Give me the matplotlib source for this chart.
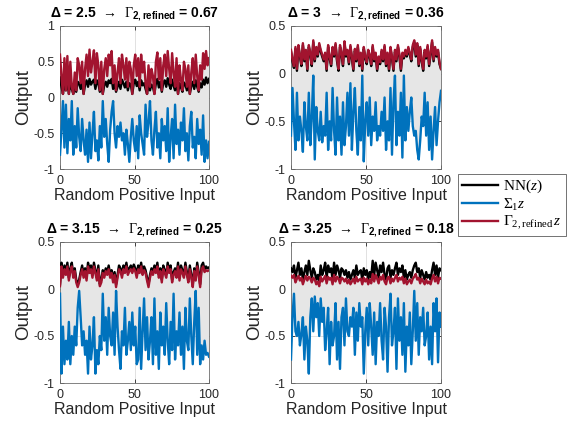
import numpy as np
import matplotlib
matplotlib.use("Agg")
import matplotlib.pyplot as plt
from matplotlib.lines import Line2D

plt.rcParams["font.family"] = ["Liberation Sans", "DejaVu Sans"]
plt.rcParams["mathtext.fontset"] = "custom"
plt.rcParams["mathtext.rm"] = "Liberation Serif"
plt.rcParams["mathtext.it"] = "Liberation Serif:italic"
plt.rcParams["mathtext.bf"] = "Liberation Sans:bold"

# panel titles
deltas = ["2.5", "3", "3.15", "3.25"]
gammas = ["0.67", "0.36", "0.25", "0.18"]

# --- panel 1 (delta = 2.5)
nn_1 = [0.28, 0.15, 0.05, 0.22, 0.10, 0.25, 0.05, 0.20, 0.12, 0.05, 0.18,
        0.08, 0.22, 0.20, 0.12, 0.20, 0.05, 0.18, 0.24, 0.15, 0.26,
        0.18, 0.22, 0.25, 0.12, 0.24, 0.20, 0.08, 0.20, 0.05, 0.17,
        0.22, 0.15, 0.24, 0.20, 0.26, 0.12, 0.20, 0.08, 0.15, 0.22,
        0.12, 0.25, 0.20, 0.14, 0.22, 0.10, 0.20, 0.18, 0.05, 0.20,
        0.25, 0.16, 0.22, 0.10, 0.24, 0.17, 0.20, 0.12, 0.05, 0.20,
        0.10, 0.18, 0.15, 0.05, 0.20, 0.26, 0.14, 0.22, 0.08, 0.20,
        0.24, 0.15, 0.27, 0.18, 0.12, 0.25, 0.16, 0.10, 0.22, 0.05,
        0.20, 0.14, 0.08, 0.21, 0.18, 0.10, 0.20, 0.05, 0.16, 0.22,
        0.12, 0.24, 0.15, 0.08, 0.20, 0.14, 0.25, 0.18, 0.28, 0.20, 0.26]
sig_1 = [-0.80, -0.45, -0.05, -0.70, -0.10, -0.78, -0.30, -0.60, -0.05, -0.80, -0.40,
         -0.70, -0.15, -0.55, -0.75, -0.30, -0.60, -0.80, -0.45, -0.90, -0.35,
         -0.85, -0.50, -0.20, -0.75, -0.60, -0.88, -0.40, -0.70, -0.05, -0.55,
         -0.30, -0.65, -0.90, -0.45, -0.20, -0.05, -0.50, -0.70, -0.40, -0.55,
         -0.35, -0.60, -0.50, -0.80, -0.45, -0.65, -0.90, -0.55, -0.30, -0.60,
         -0.75, -0.40, -0.85, -0.25, -0.50, -0.65, -0.80, -0.10, -0.55, -0.35,
         -0.05, -0.60, -0.80, -0.45, -0.20, -0.70, -0.50, -0.85, -0.30, -0.60,
         -0.40, -0.75, -0.15, -0.90, -0.55, -0.30, -0.85, -0.10, -0.65, -0.45,
         -0.80, -0.35, -0.60, -0.15, -0.75, -0.50, -0.88, -0.40, -0.20, -0.70,
         -0.55, -0.85, -0.30, -0.65, -0.45, -0.80, -0.25, -0.90, -0.60, -0.85, -0.62]
gam_1 = [0.60, 0.30, 0.05, 0.55, 0.10, 0.58, 0.05, 0.50, 0.15, 0.05, 0.35,
         0.10, 0.55, 0.45, 0.20, 0.50, 0.05, 0.40, 0.60, 0.30, 0.67,
         0.35, 0.50, 0.66, 0.20, 0.62, 0.45, 0.10, 0.50, 0.05, 0.40,
         0.55, 0.30, 0.60, 0.45, 0.65, 0.20, 0.45, 0.10, 0.35, 0.55,
         0.20, 0.60, 0.45, 0.25, 0.55, 0.15, 0.50, 0.40, 0.05, 0.45,
         0.60, 0.30, 0.55, 0.15, 0.60, 0.35, 0.50, 0.20, 0.05, 0.45,
         0.15, 0.40, 0.30, 0.05, 0.50, 0.63, 0.25, 0.55, 0.10, 0.45,
         0.60, 0.30, 0.65, 0.40, 0.20, 0.62, 0.35, 0.15, 0.55, 0.05,
         0.45, 0.25, 0.10, 0.50, 0.40, 0.15, 0.45, 0.05, 0.35, 0.55,
         0.20, 0.60, 0.30, 0.10, 0.45, 0.25, 0.62, 0.40, 0.65, 0.45, 0.55]

# --- panel 2 (delta = 3)
nn_2 = [0.23, 0.13, 0.06, 0.26, 0.03, 0.28, 0.18, 0.08, 0.30, 0.13, 0.23,
        0.03, 0.28, 0.20, 0.08, 0.33, 0.13, 0.26, 0.18, 0.30, 0.23,
        0.18, 0.13, 0.20, 0.03, 0.28, 0.16, 0.08, 0.26, 0.18, 0.30,
        0.13, 0.03, 0.28, 0.20, 0.08, 0.32, 0.18, 0.23, 0.10, 0.28,
        0.16, 0.03, 0.24, 0.13, 0.28, 0.08, 0.20, 0.03, 0.26, 0.16,
        0.10, 0.23, 0.18, 0.08, 0.28, 0.13, 0.20, 0.03, 0.16, 0.10,
        0.23, 0.13, 0.28, 0.08, 0.20, 0.03, 0.26, 0.16, 0.03, 0.23,
        0.13, 0.28, 0.18, 0.03, 0.20, 0.16, 0.23, 0.18, 0.26, 0.20,
        0.13, 0.28, 0.33, 0.18, 0.30, 0.08, 0.26, 0.13, 0.03, 0.23,
        0.16, 0.28, 0.08, 0.20, 0.33, 0.13, 0.26, 0.18, 0.23, 0.10, 0.05]
sig_2 = [-0.65, -0.15, -0.50, -0.80, -0.20, -0.70, -0.45, -0.60, -0.82, -0.30, -0.55,
         -0.70, -0.20, -0.75, -0.45, -0.02, -0.90, -0.35, -0.60, -0.70, -0.40,
         -0.72, -0.55, -0.65, -0.20, -0.80, -0.50, -0.70, -0.15, -0.60, -0.85,
         -0.25, -0.70, -0.45, -0.85, -0.30, -0.75, -0.55, -0.20, -0.65, -0.10,
         -0.80, -0.40, -0.15, -0.60, -0.85, -0.35, -0.70, -0.02, -0.92, -0.50,
         -0.30, -0.65, -0.25, -0.75, -0.45, -0.60, -0.30, -0.70, -0.55, -0.65,
         -0.40, -0.60, -0.25, -0.80, -0.50, -0.70, -0.15, -0.85, -0.30, -0.02,
         -0.75, -0.40, -0.65, -0.20, -0.88, -0.02, -0.70, -0.35, -0.60, -0.40,
         -0.25, -0.55, -0.65, -0.60, -0.80, -0.90, -0.70, -0.45, -0.55, -0.20,
         -0.65, -0.30, -0.80, -0.45, -0.90, -0.60, -0.35, -0.75, -0.50, -0.30, -0.18]
gam_2 = [0.25, 0.15, 0.08, 0.28, 0.05, 0.30, 0.20, 0.10, 0.32, 0.15, 0.25,
         0.05, 0.30, 0.22, 0.10, 0.35, 0.15, 0.28, 0.20, 0.32, 0.25,
         0.20, 0.15, 0.22, 0.05, 0.30, 0.18, 0.10, 0.28, 0.20, 0.32,
         0.15, 0.05, 0.30, 0.22, 0.10, 0.34, 0.20, 0.25, 0.12, 0.30,
         0.18, 0.05, 0.26, 0.15, 0.30, 0.10, 0.22, 0.05, 0.28, 0.18,
         0.12, 0.25, 0.20, 0.10, 0.30, 0.15, 0.22, 0.05, 0.18, 0.12,
         0.25, 0.15, 0.30, 0.10, 0.22, 0.05, 0.28, 0.18, 0.05, 0.25,
         0.15, 0.30, 0.20, 0.05, 0.22, 0.18, 0.25, 0.20, 0.28, 0.22,
         0.15, 0.30, 0.35, 0.20, 0.32, 0.10, 0.28, 0.15, 0.05, 0.25,
         0.18, 0.30, 0.10, 0.22, 0.35, 0.15, 0.28, 0.20, 0.25, 0.12, 0.05]

# --- panel 3 (delta = 3.15)
nn_3 = [0.05, 0.28, 0.15, 0.25, 0.18, 0.28, 0.12, 0.22, 0.28, 0.15, 0.22,
        0.10, 0.05, 0.10, 0.18, 0.25, 0.15, 0.22, 0.12, 0.28, 0.20,
        0.25, 0.15, 0.28, 0.20, 0.12, 0.25, 0.05, 0.10, 0.20, 0.15,
        0.22, 0.18, 0.25, 0.15, 0.20, 0.10, 0.18, 0.05, 0.15, 0.25,
        0.22, 0.15, 0.25, 0.20, 0.28, 0.18, 0.22, 0.25, 0.20, 0.26,
        0.22, 0.15, 0.25, 0.20, 0.28, 0.18, 0.24, 0.20, 0.12, 0.05,
        0.15, 0.22, 0.18, 0.25, 0.20, 0.28, 0.15, 0.22, 0.10, 0.25,
        0.20, 0.15, 0.28, 0.20, 0.25, 0.10, 0.18, 0.22, 0.15, 0.28,
        0.12, 0.25, 0.20, 0.15, 0.28, 0.18, 0.10, 0.25, 0.15, 0.05,
        0.22, 0.12, 0.28, 0.18, 0.05, 0.25, 0.28, 0.20, 0.24, 0.22, 0.23]
sig_3 = [-0.05, -0.90, -0.40, -0.80, -0.55, -0.75, -0.35, -0.80, -0.50, -0.70, -0.40,
         -0.60, -0.20, -0.02, -0.30, -0.60, -0.45, -0.70, -0.55, -0.90, -0.40,
         -0.75, -0.60, -0.30, -0.90, -0.65, -0.80, -0.50, -0.65, -0.05, -0.55,
         -0.30, -0.70, -0.20, -0.50, -0.60, -0.25, -0.70, -0.02, -0.40, -0.65,
         -0.85, -0.45, -0.60, -0.20, -0.70, -0.55, -0.35, -0.65, -0.25, -0.60,
         -0.40, -0.80, -0.75, -0.20, -0.85, -0.45, -0.10, -0.65, -0.30, -0.75,
         -0.55, -0.30, -0.80, -0.10, -0.70, -0.45, -0.85, -0.25, -0.60, -0.40,
         -0.70, -0.15, -0.55, -0.80, -0.35, -0.65, -0.05, -0.75, -0.45, -0.60,
         -0.25, -0.70, -0.40, -0.85, -0.20, -0.55, -0.65, -0.10, -0.50, -0.80,
         -0.35, -0.02, -0.70, -0.20, -0.80, -0.60, -0.75, -0.55, -0.70, -0.68, -0.72]
gam_3 = [0.03, 0.24, 0.12, 0.21, 0.15, 0.24, 0.09, 0.19, 0.24, 0.12, 0.19,
         0.07, 0.02, 0.07, 0.15, 0.21, 0.12, 0.19, 0.09, 0.24, 0.17,
         0.21, 0.12, 0.24, 0.17, 0.09, 0.21, 0.03, 0.07, 0.17, 0.12,
         0.19, 0.15, 0.21, 0.12, 0.17, 0.07, 0.15, 0.02, 0.12, 0.21,
         0.19, 0.12, 0.21, 0.17, 0.24, 0.15, 0.19, 0.21, 0.17, 0.22,
         0.19, 0.12, 0.21, 0.17, 0.24, 0.15, 0.20, 0.17, 0.09, 0.02,
         0.12, 0.19, 0.15, 0.21, 0.17, 0.24, 0.12, 0.19, 0.07, 0.21,
         0.17, 0.12, 0.24, 0.17, 0.21, 0.07, 0.15, 0.19, 0.12, 0.24,
         0.09, 0.21, 0.17, 0.12, 0.24, 0.15, 0.07, 0.21, 0.12, 0.02,
         0.19, 0.09, 0.24, 0.15, 0.02, 0.21, 0.24, 0.18, 0.20, 0.19, 0.20]

# --- panel 4 (delta = 3.25)
nn_4 = [0.22, 0.18, 0.25, 0.12, 0.20, 0.28, 0.15, 0.22, 0.10, 0.18, 0.25,
        0.15, 0.30, 0.20, 0.12, 0.22, 0.18, 0.10, 0.15, 0.08, 0.25,
        0.15, 0.20, 0.28, 0.12, 0.25, 0.18, 0.22, 0.10, 0.28, 0.15,
        0.25, 0.20, 0.12, 0.22, 0.20, 0.15, 0.20, 0.12, 0.18, 0.10,
        0.15, 0.20, 0.12, 0.25, 0.15, 0.18, 0.20, 0.10, 0.22, 0.15,
        0.20, 0.10, 0.18, 0.12, 0.30, 0.15, 0.28, 0.20, 0.12, 0.25,
        0.18, 0.28, 0.15, 0.10, 0.22, 0.25, 0.12, 0.20, 0.15, 0.22,
        0.28, 0.15, 0.22, 0.18, 0.25, 0.12, 0.20, 0.10, 0.15, 0.18,
        0.12, 0.20, 0.25, 0.28, 0.18, 0.22, 0.12, 0.20, 0.15, 0.10,
        0.18, 0.12, 0.15, 0.10, 0.20, 0.28, 0.15, 0.25, 0.12, 0.22, 0.20]
sig_4 = [-0.75, -0.30, -0.05, -0.45, -0.50, -0.35, -0.60, -0.48, -0.30, -0.75, -0.40,
         -0.55, -0.90, -0.30, -0.10, -0.45, -0.08, -0.30, -0.15, -0.50, -0.10,
         -0.35, -0.20, -0.65, -0.45, -0.20, -0.80, -0.35, -0.60, -0.50, -0.15,
         -0.75, -0.35, -0.85, -0.30, -0.20, -0.60, -0.10, -0.45, -0.50, -0.30,
         -0.40, -0.20, -0.70, -0.25, -0.55, -0.15, -0.40, -0.30, -0.90, -0.45,
         -0.20, -0.60, -0.15, -0.40, -0.70, -0.25, -0.80, -0.35, -0.50, -0.15,
         -0.55, -0.75, -0.20, -0.40, -0.88, -0.30, -0.05, -0.60, -0.45, -0.20,
         -0.85, -0.10, -0.55, -0.30, -0.70, -0.15, -0.88, -0.40, -0.60, -0.25,
         -0.80, -0.45, -0.02, -0.55, -0.15, -0.70, -0.30, -0.45, -0.20, -0.60,
         -0.50, -0.25, -0.75, -0.40, -0.80, -0.15, -0.45, -0.10, -0.78, -0.25, -0.40]
gam_4 = [0.14, 0.12, 0.15, 0.07, 0.11, 0.14, 0.09, 0.12, 0.05, 0.10, 0.14,
         0.09, 0.13, 0.11, 0.07, 0.12, 0.10, 0.05, 0.08, 0.03, 0.13,
         0.08, 0.11, 0.14, 0.06, 0.13, 0.10, 0.12, 0.05, 0.15, 0.08,
         0.13, 0.11, 0.06, 0.12, 0.11, 0.08, 0.11, 0.06, 0.10, 0.05,
         0.08, 0.11, 0.06, 0.13, 0.08, 0.10, 0.11, 0.05, 0.12, 0.08,
         0.11, 0.05, 0.10, 0.06, 0.16, 0.08, 0.15, 0.11, 0.06, 0.13,
         0.10, 0.15, 0.08, 0.05, 0.12, 0.13, 0.06, 0.11, 0.08, 0.12,
         0.15, 0.08, 0.12, 0.10, 0.13, 0.06, 0.11, 0.05, 0.08, 0.10,
         0.06, 0.11, 0.13, 0.16, 0.10, 0.12, 0.06, 0.11, 0.08, 0.05,
         0.10, 0.06, 0.08, 0.05, 0.11, 0.15, 0.08, 0.13, 0.06, 0.12, 0.11]

panels = [(nn_1, sig_1, gam_1), (nn_2, sig_2, gam_2),
          (nn_3, sig_3, gam_3), (nn_4, sig_4, gam_4)]

BLUE = "#0072BD"
RED = "#A2142F"

W, H = 572, 424
fig = plt.figure(figsize=(W / 100, H / 100), dpi=100)

# axes boxes in pixels: left, top, right, bottom
boxes = [(60, 26, 209, 169), (291, 26, 441, 169),
         (60, 242, 209, 383), (291, 242, 441, 383)]

for k, (nn, sig, gam) in enumerate(panels):
    assert len(nn) == len(sig) == len(gam)
    x = np.linspace(0, 100, len(nn))
    l, t, r, b = boxes[k]
    ax = fig.add_axes([l / W, 1 - b / H, (r - l) / W, (b - t) / H])
    ax.fill_between(x, sig, gam, color="#e6e6e6", lw=0, zorder=1)
    ax.plot(x, nn, color="black", lw=1.7, zorder=3)
    ax.plot(x, sig, color=BLUE, lw=1.7, zorder=3)
    ax.plot(x, gam, color=RED, lw=1.7, zorder=4)
    ax.set_xlim(0, 100)
    if k == 0:
        ax.set_ylim(-1, 1)
        ax.set_yticks([-1, -0.5, 0, 0.5, 1])
        ax.set_yticklabels(["-1", "-0.5", "0", "0.5", "1"])
    else:
        ax.set_ylim(-1, 0.5)
        ax.set_yticks([-1, -0.5, 0, 0.5])
        ax.set_yticklabels(["-1", "-0.5", "0", "0.5"])
    ax.set_xticks([0, 50, 100])
    ax.grid(True, color="#dcdcdc", lw=0.6, zorder=0)
    ax.set_axisbelow(True)
    ax.tick_params(direction="in", length=3, width=0.6, top=True, right=True,
                   labelsize=9, colors="#262626", pad=4)
    for s in ax.spines.values():
        s.set_color("#6e6e6e")
        s.set_linewidth(0.6)
    ax.set_xlabel("Random Positive Input", fontsize=11.5, color="#262626", labelpad=1)
    ax.set_ylabel("Output", fontsize=13.5, color="#262626", labelpad=1)
    ax.set_title("Δ = %s  →  $\\Gamma_{\\mathbf{2,refined}}$ = %s" % (deltas[k], gammas[k]),
                 fontsize=10, fontweight="bold", pad=7)

handles = [Line2D([], [], color="black", lw=1.7),
           Line2D([], [], color=BLUE, lw=1.7),
           Line2D([], [], color=RED, lw=1.7)]
labels = [r"$\mathrm{NN}(z)$", r"$\Sigma_1 z$", r"$\Gamma_{2,\mathrm{refined}}\, z$"]
leg = fig.legend(handles, labels, loc="upper left",
                 bbox_to_anchor=(458 / W, 1 - 174 / H), fontsize=11,
                 frameon=True, fancybox=False, edgecolor="#333333",
                 handlelength=2.4, handletextpad=0.3, borderpad=0.25,
                 labelspacing=0.1, borderaxespad=0)
leg.get_frame().set_linewidth(0.6)

fig.savefig("out.png", dpi=100)
